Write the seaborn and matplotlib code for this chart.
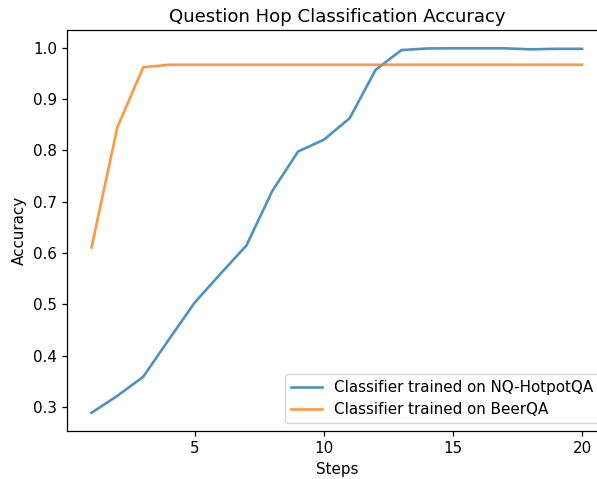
import matplotlib
matplotlib.use("Agg")
import matplotlib.pyplot as plt
import seaborn as sns
import pandas as pd

steps = list(range(1, 21))
nq_hotpotqa_acc = [0.289, 0.322, 0.359, 0.432, 0.504, 0.560, 0.615, 0.721, 0.798, 0.821,
                   0.863, 0.957, 0.9955, 0.9987, 0.999, 0.999, 0.999, 0.997, 0.998, 0.998]
beerqa_acc = [0.611, 0.845, 0.962, 0.967, 0.967, 0.967, 0.967, 0.967, 0.967, 0.967,
              0.967, 0.967, 0.967, 0.967, 0.967, 0.967, 0.967, 0.967, 0.967, 0.967]
series_names = ["Classifier trained on NQ-HotpotQA", "Classifier trained on BeerQA"]

df = pd.DataFrame({
    "Steps": steps * 2,
    "Accuracy": nq_hotpotqa_acc + beerqa_acc,
    "Model": [series_names[0]] * len(steps) + [series_names[1]] * len(steps),
})

plt.rcParams["font.size"] = 10.9
plt.rcParams["axes.linewidth"] = 0.9
plt.rcParams["xtick.major.width"] = 0.9
plt.rcParams["ytick.major.width"] = 0.9
plt.rcParams["xtick.major.size"] = 3.8
plt.rcParams["ytick.major.size"] = 3.8

fig = plt.figure(figsize=(5.97, 4.79), dpi=100)
ax = fig.add_axes([0.1122, 0.1002, 0.904, 0.837])

sns.lineplot(data=df, x="Steps", y="Accuracy", hue="Model",
             palette=["tab:blue", "tab:orange"], alpha=0.8, linewidth=1.9, ax=ax)

ax.set_title("Question Hop Classification Accuracy", fontsize=13.1)
ax.set_xlabel("Steps")
ax.set_ylabel("Accuracy")
ax.set_xticks([5, 10, 15, 20])
ax.legend(loc="lower right", title=None)

fig.savefig("out.png", dpi=100)
